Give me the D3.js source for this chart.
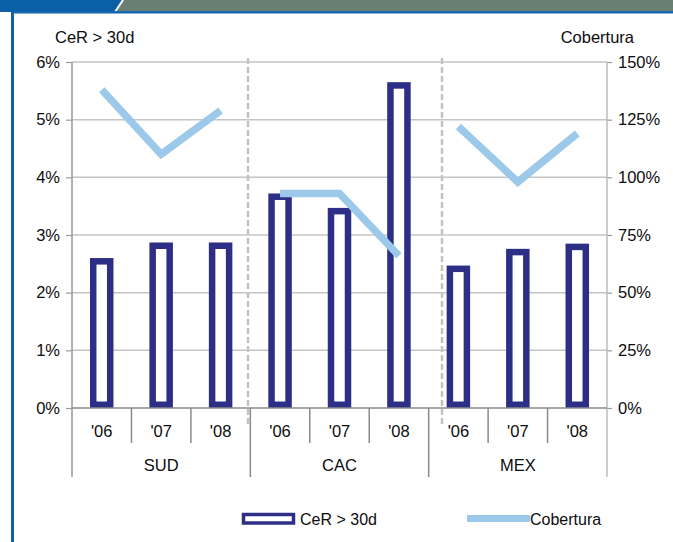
<!DOCTYPE html>
<html>
<head>
<meta charset="utf-8">
<script src="https://cdn.jsdelivr.net/npm/d3@7"></script>
<style>
  html, body { margin: 0; padding: 0; background: #ffffff; }
  svg { display: block; font-family: "Liberation Sans", Arial, sans-serif; }
</style>
</head>
<body>
<svg id="chart" width="673" height="542"></svg>
<script>
// Regions and years
const regions = ["SUD", "CAC", "MEX"];
const years = ["'06", "'07", "'08"];

// CeR > 30d (%) per region, per year
const cerSUD = [2.60, 2.87, 2.87];
const cerCAC = [3.72, 3.47, 5.65];
const cerMEX = [2.47, 2.76, 2.85];

// Cobertura (%) per region, per year
const cobSUD = [138, 110, 129];
const cobCAC = [93, 93, 66];
const cobMEX = [122, 98, 119];

// Axis ticks
const leftTicks = [0, 1, 2, 3, 4, 5, 6];
const rightTicks = [0, 25, 50, 75, 100, 125, 150];

const cerByRegion = [cerSUD, cerCAC, cerMEX];
const cobByRegion = [cobSUD, cobCAC, cobMEX];

const rows = [];
regions.forEach((r, ri) => years.forEach((y, yi) => {
  rows.push({ key: r + y, region: r, year: y, cer: cerByRegion[ri][yi], cob: cobByRegion[ri][yi] });
}));

const svg = d3.select("#chart");
const navy = "#2c2f85";
const lightBlue = "#9cc8ea";
const ink = "#0d0d0d";
const fs = 16.5;

// ---- frame ----
svg.append("rect").attr("x", 0).attr("y", 0).attr("width", 673).attr("height", 12).attr("fill", "#6b7e76");
svg.append("path").attr("d", "M0,0 L123,0 L115,12 L0,12 Z").attr("fill", "#0a5fa6");
svg.append("line").attr("x1", 123).attr("y1", 0).attr("x2", 115).attr("y2", 12)
  .attr("stroke", "#ffffff").attr("stroke-width", 2);
svg.append("rect").attr("x", 11).attr("y", 11).attr("width", 662).attr("height", 2.5).attr("fill", "#1767b0");
svg.append("rect").attr("x", 11).attr("y", 11).attr("width", 3).attr("height", 531).attr("fill", "#0d62aa");

// ---- scales ----
const x0 = 72, x1 = 607, yTop = 62, yBase = 408;
const x = d3.scaleBand().domain(rows.map(d => d.key)).range([x0, x1]).padding(0);
const yL = d3.scaleLinear().domain([0, 6]).range([yBase, yTop]);
const yR = d3.scaleLinear().domain([0, 150]).range([yBase, yTop]);

// ---- gridlines ----
svg.append("g").selectAll("line").data(leftTicks.filter(t => t > 0)).join("line")
  .attr("x1", x0).attr("x2", x1)
  .attr("y1", d => yL(d)).attr("y2", d => yL(d))
  .attr("stroke", "#c4c4c4").attr("stroke-width", 1.5);

// ---- region separators (dashed) ----
const dashX = [248, 442];
svg.append("g").selectAll("line").data(dashX).join("line")
  .attr("x1", d => d).attr("x2", d => d).attr("y1", 58).attr("y2", 426)
  .attr("stroke", "#c2c2c2").attr("stroke-width", 2.5).attr("stroke-dasharray", "6,3");

// ---- left axis ----
const axL = svg.append("g").attr("transform", `translate(${x0},0)`)
  .call(d3.axisLeft(yL).tickValues(leftTicks).tickFormat(d => d + "%").tickSize(6).tickPadding(6));
axL.select(".domain").remove();
axL.selectAll(".tick line").attr("stroke", "#999").attr("stroke-width", 1.2);
axL.selectAll(".tick text").attr("font-size", fs).attr("fill", ink)
  .attr("font-family", "Liberation Sans, Arial, sans-serif");

// ---- right axis ----
const axR = svg.append("g").attr("transform", `translate(${x1},0)`)
  .call(d3.axisRight(yR).tickValues(rightTicks).tickFormat(d => d + "%").tickSize(5).tickPadding(6));
axR.select(".domain").remove();
axR.selectAll(".tick line").attr("stroke", "#999").attr("stroke-width", 1.2);
axR.selectAll(".tick text").attr("font-size", fs).attr("fill", ink)
  .attr("font-family", "Liberation Sans, Arial, sans-serif");

// vertical axis lines (continue down through the category area)
svg.append("line").attr("x1", x0).attr("x2", x0).attr("y1", yTop).attr("y2", 477)
  .attr("stroke", "#999").attr("stroke-width", 1.5);
svg.append("line").attr("x1", x1).attr("x2", x1).attr("y1", yTop).attr("y2", 477)
  .attr("stroke", "#bdbdbd").attr("stroke-width", 1.5);

// ---- bars ----
const sw = 6.5, barW = 23.5;
svg.append("g").selectAll("rect").data(rows).join("rect")
  .attr("x", d => x(d.key) + x.bandwidth() / 2 - barW / 2 + sw / 2)
  .attr("width", barW - sw)
  .attr("y", d => yL(d.cer) + sw / 2)
  .attr("height", d => yBase - yL(d.cer) - sw)
  .attr("fill", "#ffffff").attr("stroke", navy).attr("stroke-width", sw);

// ---- category axis ----
const cat = svg.append("g");
cat.append("line").attr("x1", x0).attr("x2", x1).attr("y1", yBase).attr("y2", yBase)
  .attr("stroke", "#8a8a8a").attr("stroke-width", 1.5);
// year separators inside each region
const inner = [];
regions.forEach((r, ri) => [1, 2].forEach(k => inner.push(rows[ri * 3 + k].key)));
cat.selectAll("line.yr").data(inner).join("line").attr("class", "yr")
  .attr("x1", d => x(d)).attr("x2", d => x(d)).attr("y1", yBase).attr("y2", 443)
  .attr("stroke", "#8a8a8a").attr("stroke-width", 1.5);
// region separators
const outer = [rows[3].key, rows[6].key];
cat.selectAll("line.rg").data(outer).join("line").attr("class", "rg")
  .attr("x1", d => x(d)).attr("x2", d => x(d)).attr("y1", yBase).attr("y2", 477)
  .attr("stroke", "#8a8a8a").attr("stroke-width", 1.5);
// year labels
cat.selectAll("text.yr").data(rows).join("text").attr("class", "yr")
  .attr("x", d => x(d.key) + x.bandwidth() / 2).attr("y", 437)
  .attr("text-anchor", "middle").attr("font-size", fs).attr("fill", ink)
  .text(d => d.year);
// region labels
cat.selectAll("text.rg").data(regions).join("text").attr("class", "rg")
  .attr("x", (d, i) => x(rows[i * 3 + 1].key) + x.bandwidth() / 2).attr("y", 471)
  .attr("text-anchor", "middle").attr("font-size", fs).attr("fill", ink)
  .text(d => d);

// ---- Cobertura lines (one per region) ----
const line = d3.line().x(d => x(d.key) + x.bandwidth() / 2).y(d => yR(d.cob));
svg.append("g").selectAll("path").data(regions.map(r => rows.filter(d => d.region === r))).join("path")
  .attr("d", line).attr("fill", "none").attr("stroke", lightBlue)
  .attr("stroke-width", 7.5).attr("stroke-linejoin", "miter");

// ---- axis titles ----
svg.append("text").attr("x", 55).attr("y", 42.5).attr("font-size", fs).attr("fill", ink).text("CeR > 30d");
svg.append("text").attr("x", 634).attr("y", 42.5).attr("text-anchor", "end").attr("font-size", fs).attr("fill", ink).text("Cobertura");

// ---- legend ----
const lg = svg.append("g");
lg.append("rect").attr("x", 243.5).attr("y", 514.5).attr("width", 50).attr("height", 8.5)
  .attr("fill", "#ffffff").attr("stroke", navy).attr("stroke-width", 3.5);
lg.append("text").attr("x", 300).attr("y", 524.5).attr("font-size", 16).attr("fill", ink).text("CeR > 30d");
lg.append("line").attr("x1", 467).attr("x2", 530).attr("y1", 518.5).attr("y2", 518.5)
  .attr("stroke", lightBlue).attr("stroke-width", 7);
lg.append("text").attr("x", 530).attr("y", 524.5).attr("font-size", 16).attr("fill", ink).text("Cobertura");
</script>
</body>
</html>
